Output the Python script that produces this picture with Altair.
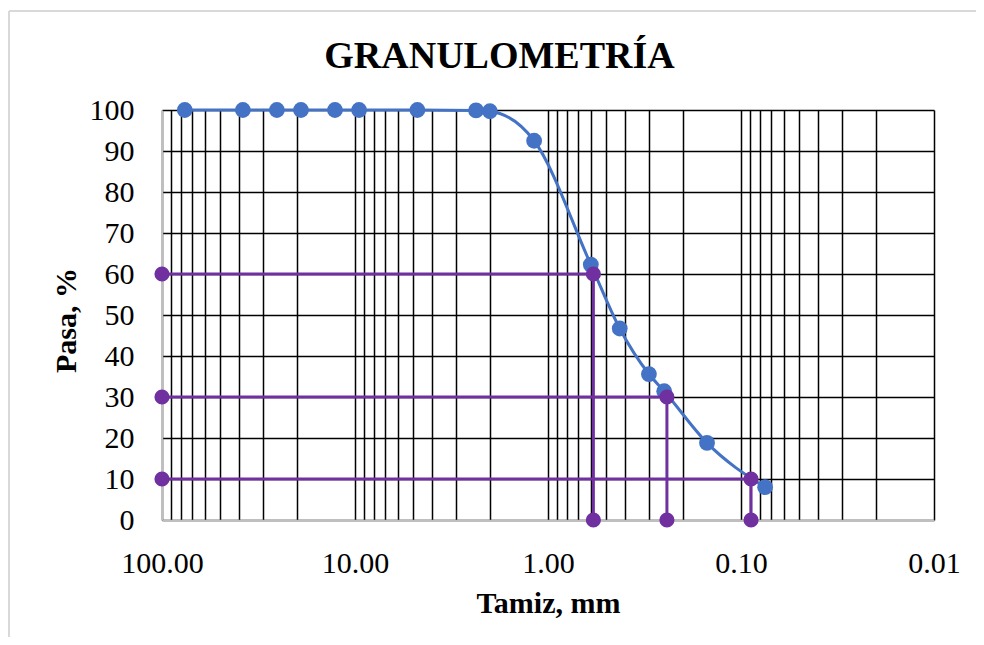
import altair as alt
import pandas as pd

# ---- data ----
tamiz_mm = [76.2, 38.1, 25.4, 19.05, 12.7, 9.525, 4.75, 2.36, 2.00, 1.18,
            0.600, 0.425, 0.300, 0.250, 0.150, 0.075]
pasa_pct = [100, 100, 100, 100, 100, 100, 100, 99.9, 99.7, 92.5,
            62.3, 46.7, 35.6, 31.4, 18.8, 8.0]

d_names = ["D60", "D30", "D10"]
d_tamiz = [0.582, 0.242, 0.0887]
d_pasa = [60, 30, 10]

x_grid_values = [100, 90, 80, 70, 60, 50, 40, 30, 20,
                 10, 9, 8, 7, 6, 5, 4, 3, 2,
                 1, 0.9, 0.8, 0.7, 0.6, 0.5, 0.4, 0.3, 0.2,
                 0.1, 0.09, 0.08, 0.07, 0.06, 0.05, 0.04, 0.03, 0.02,
                 0.01]
x_label_values = [100, 10, 1, 0.1, 0.01]
y_tick_values = [0, 10, 20, 30, 40, 50, 60, 70, 80, 90, 100]

titulo = ["GRANULOMETRÍA"]

x_min, x_max = 0.01, 100

BLUE = "#4472C4"
PURPLE = "#7030A0"
FONT = "Liberation Serif"

curve = pd.DataFrame({"x": tamiz_mm, "y": pasa_pct})

rows = []
for name, dx, dy in zip(d_names, d_tamiz, d_pasa):
    rows.append({"serie": name, "paso": 0, "x": x_max, "y": dy})
    rows.append({"serie": name, "paso": 1, "x": dx, "y": dy})
    rows.append({"serie": name, "paso": 2, "x": dx, "y": 0})
dlines = pd.DataFrame(rows)

label_test = " || ".join(f"datum.value == {v}" for v in x_label_values)

x_scale = alt.Scale(type="log", domain=[x_min, x_max], reverse=True, nice=False)
y_scale = alt.Scale(domain=[0, 100], nice=False)

x_axis = alt.Axis(
    values=x_grid_values,
    labelExpr=f"({label_test}) ? format(datum.value, '.2f') : ''",
    grid=True, gridColor="black", gridWidth=1.5, gridOpacity=1,
    ticks=False, tickSize=0,
    domainColor="#BFBFBF", domainWidth=1.5,
    labelFont=FONT, labelFontSize=30, labelColor="black",
    labelPadding=28, labelFlush=False, labelOverlap=False,
    title="Tamiz, mm", titleFont=FONT, titleFontSize=30,
    titleFontWeight="bold", titleColor="black",
    titleY=92, titleBaseline="alphabetic",
)
y_axis = alt.Axis(
    values=y_tick_values, format="d",
    grid=True, gridColor="black", gridWidth=1.5, gridOpacity=1,
    ticks=False, tickSize=0,
    domainColor="#BFBFBF", domainWidth=1.5,
    labelFont=FONT, labelFontSize=30, labelColor="black",
    labelPadding=28, labelOverlap=False,
    title="Pasa, %", titleFont=FONT, titleFontSize=30,
    titleFontWeight="bold", titleColor="black",
    titleX=-87, titleY=210, titleAngle=270,
    titleBaseline="alphabetic", titleAlign="center",
)

X = alt.X("x:Q", scale=x_scale, axis=x_axis)
Y = alt.Y("y:Q", scale=y_scale, axis=y_axis)

one = pd.DataFrame({"t": titulo})

frame_top = alt.Chart(one).mark_rule(color="#D9D9D9", strokeWidth=2).encode(
    x=alt.value(-153), x2=alt.value(900), y=alt.value(-99)
)
frame_left = alt.Chart(one).mark_rule(color="#D9D9D9", strokeWidth=2).encode(
    x=alt.value(-153), y=alt.value(-99), y2=alt.value(700)
)

title_txt = alt.Chart(one).mark_text(
    font=FONT, fontSize=38, fontWeight="bold", color="black",
    align="center", baseline="alphabetic",
).encode(text="t:N", x=alt.value(337.5), y=alt.value(-42))

blue_line = alt.Chart(curve).mark_line(
    color=BLUE, strokeWidth=3, interpolate="monotone"
).encode(x=X, y=Y, order=alt.Order("x:Q", sort="descending"))

blue_pts = alt.Chart(curve).mark_circle(
    color=BLUE, size=250, opacity=1
).encode(x=X, y=Y)

purple_line = alt.Chart(dlines).mark_line(
    color=PURPLE, strokeWidth=3
).encode(x=X, y=Y, detail="serie:N", order=alt.Order("paso:Q"))

purple_pts = alt.Chart(dlines).mark_circle(
    color=PURPLE, size=230, opacity=1
).encode(x=X, y=Y)

chart = alt.layer(
    blue_line, blue_pts, purple_line, purple_pts, frame_top, frame_left, title_txt
).properties(
    width=772, height=410,
    padding={"left": 154, "top": 102, "right": 42, "bottom": 117},
    autosize=alt.AutoSizeParams(type="none"),
    background="white",
).configure_view(stroke=None)

chart.save("out.html", embed_options={"renderer": "svg", "actions": False})
